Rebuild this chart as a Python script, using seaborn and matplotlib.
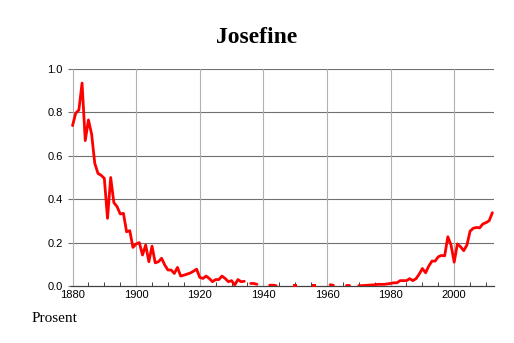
import numpy as np
import pandas as pd
import matplotlib
matplotlib.use("Agg")
import matplotlib.pyplot as plt
import seaborn as sns
from matplotlib.ticker import MultipleLocator, FormatStrFormatter

title = "Josefine"
ylabel_text = "Prosent"

years = list(range(1880, 2013))
nan = np.nan
values = [
    # 1880-1889
    0.739, 0.796, 0.811, 0.935, 0.67, 0.765, 0.70, 0.565, 0.519, 0.51,
    # 1890-1899
    0.496, 0.312, 0.50, 0.384, 0.366, 0.332, 0.335, 0.25, 0.255, 0.178,
    # 1900-1909
    0.194, 0.20, 0.143, 0.189, 0.112, 0.184, 0.107, 0.112, 0.128, 0.097,
    # 1910-1919
    0.074, 0.074, 0.058, 0.086, 0.046, 0.05, 0.055, 0.06, 0.068, 0.078,
    # 1920-1929
    0.04, 0.035, 0.046, 0.035, 0.02, 0.03, 0.03, 0.046, 0.035, 0.02,
    # 1930-1939
    0.025, 0.005, 0.03, 0.02, 0.022, nan, 0.012, 0.012, 0.008, nan,
    # 1940-1949
    nan, nan, 0.004, 0.004, 0.002, nan, nan, nan, nan, nan,
    # 1950-1959
    0.002, nan, nan, nan, nan, nan, 0.002, nan, nan, nan,
    # 1960-1969
    nan, 0.006, 0.004, nan, nan, nan, 0.003, 0.003, nan, nan,
    # 1970-1979
    0.002, 0.002, 0.003, 0.004, 0.005, 0.006, 0.008, 0.008, 0.008, 0.01,
    # 1980-1989
    0.012, 0.015, 0.015, 0.025, 0.025, 0.025, 0.034, 0.025, 0.034, 0.055,
    # 1990-1999
    0.081, 0.061, 0.092, 0.115, 0.115, 0.135, 0.141, 0.139, 0.227, 0.189,
    # 2000-2009
    0.11, 0.194, 0.181, 0.163, 0.189, 0.253, 0.266, 0.27, 0.268, 0.286,
    # 2010-2012
    0.292, 0.301, 0.338,
]
xticks = [1880, 1900, 1920, 1940, 1960, 1980, 2000]
yticks = [0.0, 0.2, 0.4, 0.6, 0.8, 1.0]

df = pd.DataFrame({"year": years, "value": values})
df["seg"] = df["value"].isna().cumsum()
valid = df.dropna().copy()
counts = valid.groupby("seg")["year"].transform("count")
lines_df = valid[counts > 1]
dots_df = valid[counts == 1]

sns.set_style("white")
plt.rcParams["font.family"] = ["Liberation Sans", "DejaVu Sans"]
plt.rcParams["text.color"] = "black"

fig = plt.figure(figsize=(5.14, 3.43), dpi=100)
ax = fig.add_axes([0.138, 0.166, 0.823, 0.633])

sns.lineplot(data=lines_df, x="year", y="value", units="seg", estimator=None,
             color="#ff0000", linewidth=2.0, ax=ax, legend=False, zorder=3)
sns.scatterplot(data=dots_df, x="year", y="value", color="#ff0000", marker="s",
                s=6, linewidth=0, ax=ax, legend=False, zorder=3)

ax.set_xlim(1879.5, 2012.5)
ax.set_ylim(0, 1.0)
ax.set_xticks(xticks)
ax.set_yticks(yticks)
ax.yaxis.set_major_formatter(FormatStrFormatter("%.1f"))
ax.xaxis.set_minor_locator(MultipleLocator(5))

for y in yticks[1:]:
    ax.axhline(y, color="#707070", linewidth=0.8, zorder=1)
for x in xticks:
    ax.axvline(x, color="#b0b0b0", linewidth=0.8, zorder=1)

for s in ["top", "right", "left"]:
    ax.spines[s].set_visible(False)
ax.spines["bottom"].set_color("#404040")
ax.spines["bottom"].set_linewidth(0.9)

ax.tick_params(axis="x", which="both", bottom=True)
ax.tick_params(axis="y", which="major", left=True)
ax.tick_params(axis="x", which="major", length=0, labelsize=8, pad=3,
               labelcolor="black")
ax.tick_params(axis="x", which="minor", direction="in", length=3, width=0.7,
               color="#404040")
ax.tick_params(axis="y", which="major", direction="out", length=2, width=0.8,
               color="#707070", labelsize=8, pad=4, labelcolor="black")
ax.set_xlabel("")
ax.set_ylabel("")

fig.text(0.5, 0.89, title, ha="center", va="center", fontsize=17,
         fontweight="bold", color="black",
         family=["Liberation Serif", "DejaVu Serif"])
fig.text(0.062, 0.062, ylabel_text, ha="left", va="baseline", fontsize=11,
         color="black", family=["Liberation Serif", "DejaVu Serif"])

fig.savefig("out.png", dpi=100)
